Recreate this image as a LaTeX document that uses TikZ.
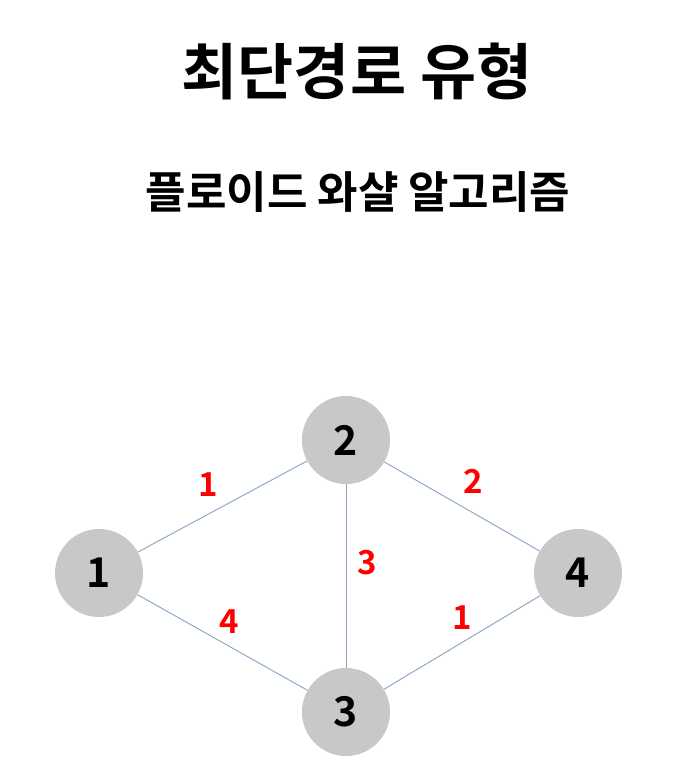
\documentclass[tikz,border=0pt]{standalone}
\usepackage{fontspec}
\newfontfamily\kr{Noto Sans CJK KR Bold}
\definecolor{edgec}{HTML}{86A3C6}
\definecolor{nodec}{HTML}{C8C8C8}
\begin{document}
\begin{tikzpicture}[x=1pt,y=-1pt,
  vert/.style={circle,fill=nodec,minimum size=88pt,inner sep=0pt,font=\kr\fontsize{41}{41}\selectfont},
  wt/.style={text=red,font=\kr\fontsize{33}{33}\selectfont,inner sep=0pt},
  edge/.style={draw=edgec,line width=0.9pt}]
\useasboundingbox (0,0) rectangle (674,765);
\node[font=\kr\fontsize{61}{61}\selectfont] (title) at (357,71) {최단경로 유형};
\node[font=\kr\fontsize{44}{44}\selectfont] (sub) at (358,192) {플로이드 와샬 알고리즘};
\node[vert] (n1) at (99,573) {1};
\node[vert] (n2) at (346,440) {2};
\node[vert] (n3) at (346,712) {3};
\node[vert] (n4) at (578,573) {4};
\draw[edge] (n1) -- (n2);
\draw[edge] (n1) -- (n3);
\draw[edge] (n2) -- (n3);
\draw[edge] (n2) -- (n4);
\draw[edge] (n3) -- (n4);
\node[wt] (w12) at (208,485) {1};
\node[wt] (w24) at (473,481) {2};
\node[wt] (w23) at (367,563) {3};
\node[wt] (w13) at (229,622) {4};
\node[wt] (w34) at (462,618) {1};
\end{tikzpicture}
\end{document}
